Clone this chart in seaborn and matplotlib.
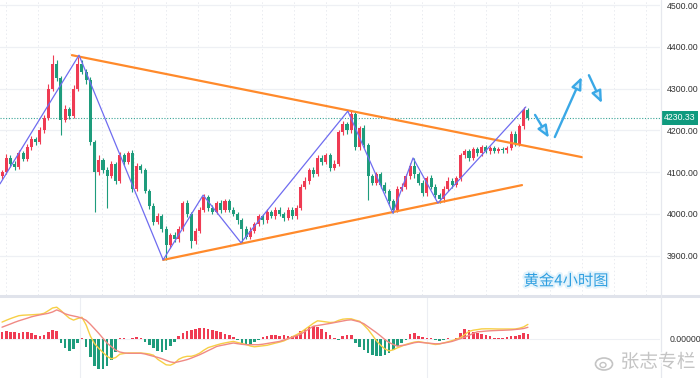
import numpy as np
import pandas as pd
import matplotlib
matplotlib.use("Agg")
import matplotlib.pyplot as plt
import matplotlib.patheffects as pe
from matplotlib.lines import Line2D
from matplotlib.patches import Ellipse
import seaborn as sns

# ---------------- data ----------------
first_open = 4090
closes = [
    4100, 4135, 4120, 4112, 4145, 4132, 4160, 4180, 4172, 4200,
    4230, 4300, 4360, 4325, 4225, 4250, 4235, 4300, 4360, 4340,
    4320, 4172, 4100, 4130, 4105, 4090, 4120, 4080, 4140, 4125,
    4145, 4060, 4115, 4105, 4055, 4020, 3980, 3995, 3965, 3925,
    3950, 3940, 3965, 4025, 4000, 3935, 3960, 4010, 4040, 4015,
    4005, 4025, 4010, 4030, 4010, 4000, 3985, 3965, 3945, 3960,
    3975, 3995, 3985, 4005, 3995, 4010, 4000, 3990, 4010, 3995,
    4015, 4065, 4080, 4105, 4095, 4135, 4125, 4140, 4110, 4120,
    4195, 4215, 4200, 4238, 4160, 4205, 4165, 4090, 4075, 4095,
    4070, 4055, 4030, 4010, 4060, 4065, 4090, 4115, 4095, 4075,
    4050, 4085, 4065, 4045, 4035, 4060, 4080, 4070, 4085, 4140,
    4150, 4135, 4155, 4145, 4160, 4150, 4158, 4150, 4156, 4152,
    4158, 4192, 4168, 4210, 4248, 4230.33]
wick_up = [
    6, 8, 5, 6, 8, 5, 7, 6, 5, 8,
    6, 10, 20, 8, 6, 10, 6, 8, 15, 8,
    6, 8, 6, 10, 5, 8, 6, 5, 8, 6,
    6, 8, 8, 5, 6, 5, 6, 8, 5, 6,
    5, 6, 6, 5, 8, 5, 6, 6, 8, 5,
    6, 5, 8, 6, 5, 6, 5, 6, 5, 8,
    6, 5, 6, 8, 5, 6, 6, 5, 6, 6,
    6, 6, 8, 6, 8, 6, 5, 6, 6, 8,
    6, 8, 6, 8, 8, 6, 8, 5, 6, 6,
    5, 6, 5, 6, 6, 8, 6, 8, 19, 5,
    6, 6, 8, 6, 5, 6, 8, 5, 6, 6,
    6, 5, 6, 6, 5, 6, 5, 5, 4, 5,
    5, 6, 6, 5, 8, 5]
wick_dn = [
    6, 5, 8, 6, 5, 6, 5, 8, 6, 5,
    6, 5, 6, 8, 36, 6, 8, 5, 6, 6,
    8, 6, 95, 8, 6, 75, 5, 8, 6, 8,
    6, 8, 6, 8, 6, 8, 6, 5, 8, 35,
    6, 8, 6, 5, 8, 16, 6, 5, 6, 8,
    6, 5, 8, 5, 6, 5, 8, 34, 6, 5,
    6, 5, 8, 6, 5, 8, 6, 6, 5, 8,
    6, 6, 5, 8, 6, 5, 8, 6, 8, 5,
    6, 5, 8, 6, 8, 6, 8, 57, 6, 5,
    8, 6, 6, 8, 6, 5, 6, 6, 8, 6,
    8, 6, 6, 8, 8, 6, 5, 8, 6, 6,
    6, 8, 5, 6, 6, 5, 6, 5, 4, 5,
    5, 6, 6, 5, 6, 6]

# MACD panel values (one per candle)
macd_dif = [
    16.9, 18.7, 20.4, 21.9, 23.3, 23.8, 24.0, 24.2, 24.5, 24.8,
    25.7, 28.3, 31.0, 31.8, 28.5, 24.5, 20.8, 18.9, 20.5, 21.7,
    14.0, 2.9, -4.7, -9.3, -13.5, -17.4, -19.8, -18.6, -15.2, -14.5,
    -14.0, -14.0, -14.0, -14.0, -14.4, -15.0, -16.2, -20.3, -23.0, -25.8,
    -26.2, -24.3, -20.3, -18.3, -17.3, -17.3, -16.1, -14.1, -11.1, -8.6,
    -7.3, -6.0, -4.8, -3.9, -3.1, -2.4, -3.5, -4.5, -5.5, -7.0,
    -7.8, -7.3, -6.8, -6.3, -5.2, -4.1, -3.1, -1.9, 0.2, 2.3,
    4.3, 6.6, 9.6, 12.6, 15.7, 18.2, 17.7, 17.1, 16.5, 16.8,
    18.6, 19.8, 20.2, 20.2, 18.8, 17.8, 13.9, 9.6, 4.0, -1.7,
    -6.3, -9.9, -11.9, -10.8, -8.8, -7.2, -5.4, -4.2, -3.1, -2.6,
    -3.3, -4.0, -4.7, -5.5, -5.0, -3.9, -2.8, -1.6, -0.2, 1.4,
    4.5, 7.6, 8.8, 9.4, 10.1, 10.2, 10.2, 10.1, 10.0, 10.0,
    10.0, 10.0, 10.0, 10.8, 12.1, 14.6]
macd_dea = [
    11.8, 13.4, 15.0, 16.7, 18.2, 19.5, 20.8, 22.2, 23.2, 24.1,
    24.9, 25.7, 27.0, 29.1, 27.4, 25.2, 23.9, 23.0, 22.1, 20.8,
    18.7, 14.7, 10.2, 5.6, 0.7, -4.2, -7.7, -11.1, -13.0, -13.9,
    -14.3, -14.3, -14.3, -14.3, -15.0, -16.2, -17.3, -18.4, -19.7, -21.3,
    -22.9, -23.6, -22.7, -21.7, -20.6, -19.1, -17.4, -15.7, -13.7, -11.6,
    -9.6, -7.5, -6.5, -5.7, -4.8, -4.0, -4.7, -5.3, -5.7, -5.7,
    -5.7, -5.7, -5.2, -4.5, -3.8, -3.1, -2.4, -1.0, 0.3, 1.7,
    3.2, 4.8, 7.5, 10.2, 12.8, 13.5, 14.2, 14.9, 15.6, 16.4,
    17.2, 18.0, 18.8, 19.2, 18.2, 17.1, 15.3, 12.3, 9.3, 6.3,
    3.0, -0.5, -3.5, -5.5, -7.2, -6.5, -5.9, -4.8, -3.7, -3.1,
    -3.6, -4.0, -4.4, -4.8, -4.7, -4.0, -3.3, -2.4, -1.0, 0.4,
    1.9, 3.6, 5.6, 7.2, 7.5, 7.9, 8.2, 8.4, 8.6, 8.7,
    8.9, 9.1, 9.5, 9.9, 10.5, 11.7]
macd_hist = [
    7, 8, 7.5, 7, 6.5, 7, 7, 6.5, 4, 3.5,
    4.5, 7.5, 9, 8.5, -4, -9, -12, -10, -4, 1,
    -8, -18, -27, -30, -30, -27, -21, -13, 1, 1.5,
    0.5, 1, 2, 1, -3, -6, -9, -12, -13, -11,
    -7, -3, 3, 6, 8, 9, 10, 11, 11, 10,
    9, 8, 7, 5, 4, 2, -1, -4, -6, -5,
    -3, -1, 2, 3, 4, 4, 3.5, 4, 3.5, 3.5,
    4, 8, 10, 12, 13, 12, 10, 7, 4, 1,
    -0.5, 3, 4.5, 4.5, -4, -8, -11, -14, -16, -17,
    -17, -16, -14, -11, -7, -4, -1, 5, 6, 3.5,
    2, 1, 1, -1, -1.5, -1, 1, 0.5, 1, 6,
    10, 9, 7.5, 6.5, 5, 4, 3.5, 1.5, 1, 1,
    2.5, 3.5, 3, 4, 6, 5]

price_ticks = [3900, 4000, 4100, 4200, 4300, 4400, 4500]
last_price = 4230.33

# trend lines (candle index, price)
upper_line_idx = [16.6, 137.8]
upper_line_price = [4380, 4136]
lower_line_idx = [38.3, 123.6]
lower_line_price = [3890, 4069]

# zig-zag wave line
zigzag_idx = [-0.48, 18.3, 38.3, 47.8, 56.8, 82.2, 92.9, 97.7, 103.6, 124.5]
zigzag_price = [4072, 4380, 3890, 4045, 3931, 4246, 4002, 4134, 4026, 4256]

# forecast arrows (start idx, start price, end idx, end price)
arrow_x0 = [126.7, 131.4, 139.5]
arrow_y0 = [4237, 4184, 4332]
arrow_x1 = [130.0, 137.8, 142.6]
arrow_y1 = [4182, 4328, 4265]

title_text = "黄金4小时图"
watermark_text = "张志专栏"

# ---------------- derived ----------------
n = len(closes)
idx = np.arange(n)
opens = [first_open] + closes[:-1]
highs = [max(o, c) + u for o, c, u in zip(opens, closes, wick_up)]
lows = [min(o, c) - d for o, c, d in zip(opens, closes, wick_dn)]
df = pd.DataFrame({"i": idx, "open": opens, "close": closes, "high": highs, "low": lows})
df["up"] = df["close"] >= df["open"]
mdf = pd.DataFrame({"i": idx, "dif": macd_dif, "dea": macd_dea, "hist": macd_hist})

# ---------------- style ----------------
sns.set_theme(style="white")
plt.rcParams["font.family"] = ["DejaVu Sans", "Noto Sans CJK SC"]
NARROW = ["Liberation Sans Narrow", "Liberation Sans", "DejaVu Sans"]

UP = "#ef3b53"
DN = "#1e9c7c"
GRID = "#eef0f4"

W, H = 700, 378
fig = plt.figure(figsize=(7.0, 3.78), dpi=100)
fig.patch.set_facecolor("white")

ax = fig.add_axes([0, 1 - 295 / H, 660 / W, 295 / H])
mx = fig.add_axes([0, 0, 660 / W, 81 / H])
XL = (-0.48, 156.4)

for a in (ax, mx):
    a.set_facecolor("white")
    for s_ in a.spines.values():
        s_.set_visible(False)
    a.set_xlim(*XL)
    a.set_xticks([])

# vertical dotted grid
for gx in np.arange(1.0, 157, 7.6):
    ax.axvline(gx, color="#e9ebf0", lw=0.7, ls=(0, (1.5, 2.5)), zorder=0)
for gx in [18.6, 101.0]:
    mx.axvline(gx, color="#eceef3", lw=0.8, zorder=0)

# horizontal grid
for t in price_ticks:
    ax.axhline(t, color=GRID, lw=0.9, zorder=0)

# candles
colors = np.where(df["up"], UP, DN)
ax.vlines(df["i"], df["low"], df["high"], colors=colors, lw=0.8, zorder=2)
body_bot = np.minimum(df["open"], df["close"])
body_h = np.maximum(np.abs(df["close"] - df["open"]), 1.0)
ax.bar(df["i"], body_h, bottom=body_bot, width=0.72, color=colors, lw=0, zorder=3)

# last price dotted line
ax.axhline(last_price, color="#3aa597", lw=0.8, ls=(0, (1, 1.5)), zorder=1)

# trend lines
sns.lineplot(x=upper_line_idx, y=upper_line_price, ax=ax, color="#ff8a2b", lw=1.6, zorder=4)
sns.lineplot(x=lower_line_idx, y=lower_line_price, ax=ax, color="#ff8a2b", lw=1.6, zorder=4)
sns.lineplot(x=zigzag_idx, y=zigzag_price, ax=ax, color="#6f6cf0", lw=0.9, sort=False, zorder=5)

for x0, y0, x1, y1 in zip(arrow_x0, arrow_y0, arrow_x1, arrow_y1):
    ax.annotate("", xy=(x1, y1), xytext=(x0, y0),
                arrowprops=dict(arrowstyle="-|>,head_width=0.25,head_length=0.6",
                                color="#3aa8e6", lw=1.7, fc="#cdeafa", ec="#3aa8e6",
                                shrinkA=0, shrinkB=0), zorder=6)

ax.set_ylim(3806, 4512)
ax.set_yticks(price_ticks)
ax.set_yticklabels([f"{t:.2f}" for t in price_ticks], family=NARROW)
ax.yaxis.tick_right()
ax.tick_params(axis="y", length=0, pad=5, labelsize=6.3, labelcolor="#333333")
ax.set_xlabel("")
ax.set_ylabel("")

# last price tag
ax.text(1.006, last_price, f"{last_price:.2f}", transform=ax.get_yaxis_transform(),
        ha="left", va="center", fontsize=6.3, color="white", clip_on=False, zorder=10,
        family=NARROW,
        bbox=dict(boxstyle="square,pad=0.3", fc="#0f9a7e", ec="none"))

# MACD panel
hcol = np.where(mdf["hist"] >= 0, UP, DN)
mx.bar(mdf["i"], mdf["hist"], width=0.62, color=hcol, lw=0, zorder=2)
sns.lineplot(data=mdf, x="i", y="dif", ax=mx, color="#f7cf45", lw=1.0, zorder=3)
sns.lineplot(data=mdf, x="i", y="dea", ax=mx, color="#f08a84", lw=1.0, zorder=3)
mx.axhline(0, color="#eef0f4", lw=0.8, zorder=0)
mx.set_ylim(-39, 42)
mx.set_yticks([0])
mx.set_yticklabels(["0.00000"], family=NARROW)
mx.yaxis.tick_right()
mx.tick_params(axis="y", length=0, pad=7, labelsize=6.3, labelcolor="#333333")
mx.set_xlabel("")
mx.set_ylabel("")

# separators
fig.add_artist(Line2D([0, 1], [1 - 296 / H] * 2, color="#e0e3eb", lw=2.2))
fig.add_artist(Line2D([661 / W] * 2, [0, 1], color="#e6e8ee", lw=0.9))

# titles / watermark
fig.text(566 / W, 1 - 281 / H, title_text, ha="center", va="center", fontsize=11,
         color="#2f9fe0", family=["Noto Sans CJK SC", "DejaVu Sans"],
         path_effects=[pe.withStroke(linewidth=3, foreground="#e3f3fc")])
fig.text(658 / W, 1 - 362 / H, watermark_text, ha="center", va="center", fontsize=13.5,
         color="#c4c4c4", family=["Noto Sans CJK SC", "DejaVu Sans"],
         path_effects=[pe.withStroke(linewidth=2, foreground="white")])
fig.add_artist(Ellipse((604 / W, 1 - 364 / H), 17 / W, 12 / H, fill=False,
                       ec="#c4c4c4", lw=1.2, transform=fig.transFigure))
fig.add_artist(Ellipse((603 / W, 1 - 365 / H), 6 / W, 5 / H, fill=False,
                       ec="#c4c4c4", lw=1.0, transform=fig.transFigure))

fig.savefig("out.png", dpi=100, facecolor="white")
